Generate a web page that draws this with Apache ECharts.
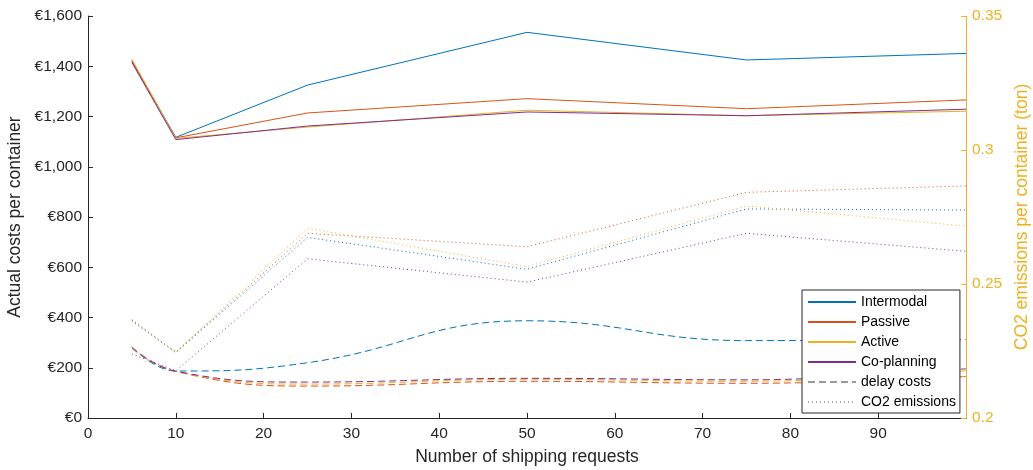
<!DOCTYPE html>
<html>
<head>
<meta charset="utf-8">
<title>Costs and emissions per container</title>
<script src="https://cdn.jsdelivr.net/npm/echarts@6/dist/echarts.min.js"></script>
<style>
  html, body { margin: 0; padding: 0; background: #fff; }
  #chart { width: 1033px; height: 470px; }
</style>
</head>
<body>
<div id="chart"></div>
<script>
// number of shipping requests
const requests = [5, 10, 25, 50, 75, 100];

// actual costs per container (solid)
const costIntermodal = [1422, 1117, 1325, 1535, 1425, 1451];
const costPassive = [1420, 1115, 1214, 1271, 1231, 1266];
const costActive = [1428, 1113, 1158, 1225, 1203, 1221];
const costCoplanning = [1415, 1108, 1162, 1218, 1203, 1229];

// delay costs (dashed)
const delayIntermodal = [284, 187, 220, 387, 308, 312];
const delayPassive = [282, 185, 127, 146, 138, 165];
const delayActive = [281, 186, 135, 154, 146, 188];
const delayCoplanning = [278, 186, 143, 158, 152, 196];

// CO2 emissions per container in ton (dotted, right axis)
const co2Intermodal = [0.2362, 0.2244, 0.2674, 0.2555, 0.2780, 0.2776];
const co2Passive = [0.2366, 0.2246, 0.2689, 0.2639, 0.2842, 0.2866];
const co2Active = [0.2368, 0.2245, 0.2708, 0.2565, 0.2791, 0.2716];
const co2Coplanning = [0.2239, 0.2176, 0.2594, 0.2507, 0.2689, 0.2622];

const colors = {
  Intermodal: "#0072BD",
  Passive: "#D95319",
  Active: "#EDB120",
  "Co-planning": "#7E2F8E"
};
const axisColor = "#262626";
const font = "'Liberation Sans', Arial, Helvetica, sans-serif";

const pairs = vals => vals.map((v, i) => [requests[i], v]);

function lineSeries(name, vals, color, type, yIndex, smooth) {
  return {
    name: name,
    type: "line",
    yAxisIndex: yIndex,
    symbol: "none",
    smooth: smooth,
    lineStyle: { color: color, width: 1, type: type },
    itemStyle: { color: color },
    data: pairs(vals)
  };
}

const series = [
  lineSeries("Intermodal", costIntermodal, colors.Intermodal, "solid", 0, false),
  lineSeries("Passive", costPassive, colors.Passive, "solid", 0, false),
  lineSeries("Active", costActive, colors.Active, "solid", 0, false),
  lineSeries("Co-planning", costCoplanning, colors["Co-planning"], "solid", 0, false),
  lineSeries("Intermodal delay", delayIntermodal, colors.Intermodal, [7, 4], 0, 0.45),
  lineSeries("Passive delay", delayPassive, colors.Passive, [7, 4], 0, 0.45),
  lineSeries("Active delay", delayActive, colors.Active, [7, 4], 0, 0.45),
  lineSeries("Co-planning delay", delayCoplanning, colors["Co-planning"], [7, 4], 0, 0.45),
  lineSeries("Intermodal CO2", co2Intermodal, colors.Intermodal, [1, 3], 1, false),
  lineSeries("Passive CO2", co2Passive, colors.Passive, [1, 3], 1, false),
  lineSeries("Active CO2", co2Active, colors.Active, [1, 3], 1, false),
  lineSeries("Co-planning CO2", co2Coplanning, colors["Co-planning"], [1, 3], 1, false),
  // legend-only entries for the line styles
  { name: "delay costs", type: "line", symbol: "none", data: [],
    lineStyle: { color: "#999", width: 1, type: [7, 4] }, itemStyle: { color: "#999" } },
  { name: "CO2 emissions", type: "line", symbol: "none", data: [],
    lineStyle: { color: "#aaa", width: 1, type: [1, 3] }, itemStyle: { color: "#aaa" } }
];

const chart = echarts.init(document.getElementById("chart"), null, { renderer: "canvas" });
chart.setOption({
  animation: false,
  backgroundColor: "#fff",
  textStyle: { fontFamily: font },
  grid: { left: 88, right: 67, top: 16, bottom: 52, outerBoundsMode: "none" },
  legend: {
    orient: "vertical",
    left: 802,
    top: 290,
    itemWidth: 48,
    itemHeight: 14,
    itemGap: 6,
    padding: [5, 4, 4, 5],
    borderColor: axisColor,
    borderWidth: 1,
    backgroundColor: "#fff",
    itemStyle: { opacity: 0 },
    textStyle: { fontFamily: font, fontSize: 14, color: "#000" },
    data: ["Intermodal", "Passive", "Active", "Co-planning", "delay costs", "CO2 emissions"]
  },
  xAxis: {
    type: "value",
    min: 0,
    max: 100,
    interval: 10,
    name: "Number of shipping requests",
    nameLocation: "middle",
    nameGap: 30,
    nameTextStyle: { fontFamily: font, fontSize: 17.5, color: axisColor },
    axisLine: { lineStyle: { color: axisColor, width: 1 } },
    axisTick: { inside: true, length: 5, lineStyle: { color: axisColor } },
    axisLabel: { showMaxLabel: false, margin: 8, fontFamily: font, fontSize: 15.5, color: axisColor },
    splitLine: { show: false }
  },
  yAxis: [
    {
      type: "value",
      min: 0,
      max: 1600,
      interval: 200,
      name: "Actual costs per container",
      nameLocation: "middle",
      nameGap: 57,
      nameRotate: 90,
      nameTextStyle: { fontFamily: font, fontSize: 17.5, color: axisColor },
      axisLine: { show: true, lineStyle: { color: axisColor, width: 1 } },
      axisTick: { show: true, inside: true, length: 5, lineStyle: { color: axisColor } },
      axisLabel: {
        margin: 6,
        fontFamily: font,
        fontSize: 15.5,
        color: axisColor,
        formatter: v => "€" + v.toLocaleString("en-US")
      },
      splitLine: { show: false }
    },
    {
      type: "value",
      position: "right",
      min: 0.2,
      max: 0.35,
      interval: 0.05,
      name: "CO2 emissions per container (ton)",
      nameLocation: "middle",
      nameGap: 44,
      nameRotate: 90,
      nameTextStyle: { fontFamily: font, fontSize: 17.5, color: "#EDB120" },
      axisLine: { show: true, lineStyle: { color: "#EDB120", width: 1 } },
      axisTick: { show: true, inside: true, length: 5, lineStyle: { color: "#EDB120" } },
      axisLabel: {
        margin: 6,
        fontFamily: font,
        fontSize: 15.5,
        color: "#EDB120",
        formatter: v => String(+v.toFixed(2))
      },
      splitLine: { show: false }
    }
  ],
  series: series
});
</script>
</body>
</html>
